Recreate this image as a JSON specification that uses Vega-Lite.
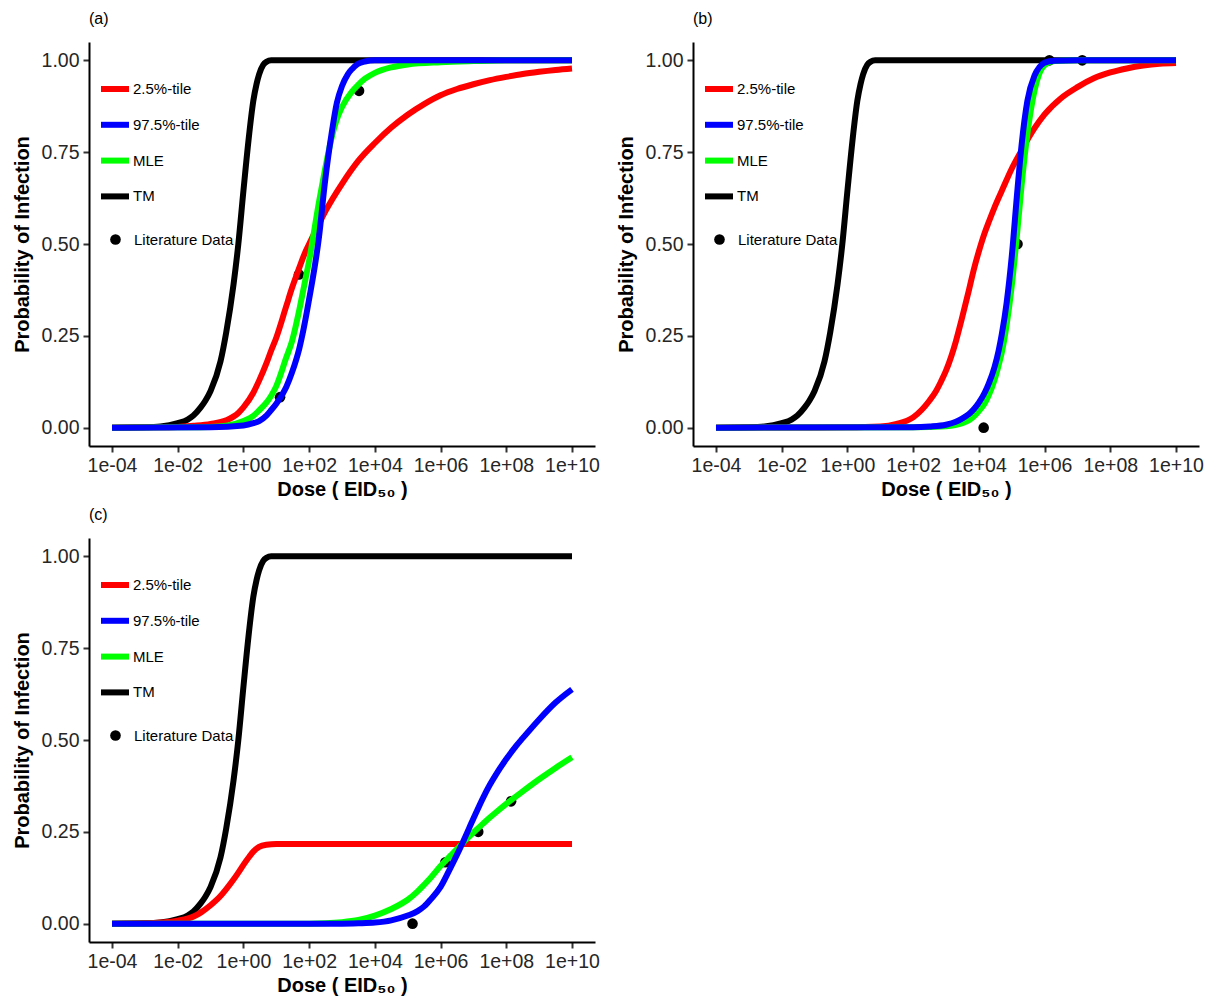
{
  "$schema": "https://vega.github.io/schema/vega-lite/v6.json",
  "padding": {"left": 12, "top": 11, "right": 5, "bottom": 5},
  "background": "white",
  "bounds": "flush",
  "columns": 2,
  "spacing": {"row": 92, "column": 98},
  "resolve": {
    "scale": {"color": "independent", "shape": "independent"},
    "legend": {"color": "independent", "shape": "independent"}
  },
  "datasets": {
    "curves": [
      {"panel": "all", "curve": "TM", "dose": 0.0001, "p": 0},
      {"panel": "all", "curve": "TM", "dose": 0.001, "p": 0.001},
      {"panel": "all", "curve": "TM", "dose": 0.003, "p": 0.003},
      {"panel": "all", "curve": "TM", "dose": 0.01, "p": 0.012},
      {"panel": "all", "curve": "TM", "dose": 0.02, "p": 0.022},
      {"panel": "all", "curve": "TM", "dose": 0.03, "p": 0.033},
      {"panel": "all", "curve": "TM", "dose": 0.05, "p": 0.055},
      {"panel": "all", "curve": "TM", "dose": 0.07, "p": 0.074},
      {"panel": "all", "curve": "TM", "dose": 0.1, "p": 0.1},
      {"panel": "all", "curve": "TM", "dose": 0.2, "p": 0.18},
      {"panel": "all", "curve": "TM", "dose": 0.3, "p": 0.26},
      {"panel": "all", "curve": "TM", "dose": 0.5, "p": 0.39},
      {"panel": "all", "curve": "TM", "dose": 0.7, "p": 0.5},
      {"panel": "all", "curve": "TM", "dose": 1, "p": 0.645},
      {"panel": "all", "curve": "TM", "dose": 1.5, "p": 0.8},
      {"panel": "all", "curve": "TM", "dose": 2, "p": 0.89},
      {"panel": "all", "curve": "TM", "dose": 2.5, "p": 0.935},
      {"panel": "all", "curve": "TM", "dose": 3, "p": 0.962},
      {"panel": "all", "curve": "TM", "dose": 4, "p": 0.988},
      {"panel": "all", "curve": "TM", "dose": 5, "p": 0.996},
      {"panel": "all", "curve": "TM", "dose": 7, "p": 1},
      {"panel": "all", "curve": "TM", "dose": 10, "p": 1},
      {"panel": "all", "curve": "TM", "dose": 10000000000, "p": 1},

      {"panel": "a", "curve": "2.5%-tile", "dose": 0.0001, "p": 0},
      {"panel": "a", "curve": "2.5%-tile", "dose": 0.001, "p": 0.001},
      {"panel": "a", "curve": "2.5%-tile", "dose": 0.01, "p": 0.002},
      {"panel": "a", "curve": "2.5%-tile", "dose": 0.03, "p": 0.005},
      {"panel": "a", "curve": "2.5%-tile", "dose": 0.1, "p": 0.01},
      {"panel": "a", "curve": "2.5%-tile", "dose": 0.3, "p": 0.02},
      {"panel": "a", "curve": "2.5%-tile", "dose": 0.7, "p": 0.04},
      {"panel": "a", "curve": "2.5%-tile", "dose": 1, "p": 0.055},
      {"panel": "a", "curve": "2.5%-tile", "dose": 2, "p": 0.095},
      {"panel": "a", "curve": "2.5%-tile", "dose": 3, "p": 0.128},
      {"panel": "a", "curve": "2.5%-tile", "dose": 5, "p": 0.175},
      {"panel": "a", "curve": "2.5%-tile", "dose": 7, "p": 0.21},
      {"panel": "a", "curve": "2.5%-tile", "dose": 10, "p": 0.245},
      {"panel": "a", "curve": "2.5%-tile", "dose": 20, "p": 0.33},
      {"panel": "a", "curve": "2.5%-tile", "dose": 30, "p": 0.38},
      {"panel": "a", "curve": "2.5%-tile", "dose": 50, "p": 0.435},
      {"panel": "a", "curve": "2.5%-tile", "dose": 70, "p": 0.47},
      {"panel": "a", "curve": "2.5%-tile", "dose": 100, "p": 0.5},
      {"panel": "a", "curve": "2.5%-tile", "dose": 200, "p": 0.555},
      {"panel": "a", "curve": "2.5%-tile", "dose": 316, "p": 0.59},
      {"panel": "a", "curve": "2.5%-tile", "dose": 1000, "p": 0.664},
      {"panel": "a", "curve": "2.5%-tile", "dose": 3162, "p": 0.727},
      {"panel": "a", "curve": "2.5%-tile", "dose": 10000, "p": 0.775},
      {"panel": "a", "curve": "2.5%-tile", "dose": 31623, "p": 0.817},
      {"panel": "a", "curve": "2.5%-tile", "dose": 100000, "p": 0.852},
      {"panel": "a", "curve": "2.5%-tile", "dose": 316228, "p": 0.881},
      {"panel": "a", "curve": "2.5%-tile", "dose": 1000000, "p": 0.905},
      {"panel": "a", "curve": "2.5%-tile", "dose": 3162278, "p": 0.922},
      {"panel": "a", "curve": "2.5%-tile", "dose": 10000000, "p": 0.935},
      {"panel": "a", "curve": "2.5%-tile", "dose": 31622777, "p": 0.946},
      {"panel": "a", "curve": "2.5%-tile", "dose": 100000000, "p": 0.955},
      {"panel": "a", "curve": "2.5%-tile", "dose": 316227766, "p": 0.963},
      {"panel": "a", "curve": "2.5%-tile", "dose": 1000000000, "p": 0.969},
      {"panel": "a", "curve": "2.5%-tile", "dose": 3162277660, "p": 0.974},
      {"panel": "a", "curve": "2.5%-tile", "dose": 10000000000, "p": 0.978},

      {"panel": "a", "curve": "MLE", "dose": 0.0001, "p": 0},
      {"panel": "a", "curve": "MLE", "dose": 0.01, "p": 0.001},
      {"panel": "a", "curve": "MLE", "dose": 0.1, "p": 0.002},
      {"panel": "a", "curve": "MLE", "dose": 0.3, "p": 0.005},
      {"panel": "a", "curve": "MLE", "dose": 1, "p": 0.018},
      {"panel": "a", "curve": "MLE", "dose": 2, "p": 0.032},
      {"panel": "a", "curve": "MLE", "dose": 3, "p": 0.047},
      {"panel": "a", "curve": "MLE", "dose": 5, "p": 0.068},
      {"panel": "a", "curve": "MLE", "dose": 7, "p": 0.087},
      {"panel": "a", "curve": "MLE", "dose": 10, "p": 0.113},
      {"panel": "a", "curve": "MLE", "dose": 20, "p": 0.19},
      {"panel": "a", "curve": "MLE", "dose": 30, "p": 0.235},
      {"panel": "a", "curve": "MLE", "dose": 50, "p": 0.32},
      {"panel": "a", "curve": "MLE", "dose": 70, "p": 0.385},
      {"panel": "a", "curve": "MLE", "dose": 100, "p": 0.455},
      {"panel": "a", "curve": "MLE", "dose": 200, "p": 0.615},
      {"panel": "a", "curve": "MLE", "dose": 300, "p": 0.7},
      {"panel": "a", "curve": "MLE", "dose": 500, "p": 0.795},
      {"panel": "a", "curve": "MLE", "dose": 700, "p": 0.84},
      {"panel": "a", "curve": "MLE", "dose": 1000, "p": 0.873},
      {"panel": "a", "curve": "MLE", "dose": 2000, "p": 0.915},
      {"panel": "a", "curve": "MLE", "dose": 3000, "p": 0.932},
      {"panel": "a", "curve": "MLE", "dose": 5000, "p": 0.95},
      {"panel": "a", "curve": "MLE", "dose": 10000, "p": 0.966},
      {"panel": "a", "curve": "MLE", "dose": 31623, "p": 0.981},
      {"panel": "a", "curve": "MLE", "dose": 100000, "p": 0.989},
      {"panel": "a", "curve": "MLE", "dose": 1000000, "p": 0.995},
      {"panel": "a", "curve": "MLE", "dose": 10000000, "p": 0.998},
      {"panel": "a", "curve": "MLE", "dose": 100000000, "p": 1},
      {"panel": "a", "curve": "MLE", "dose": 10000000000, "p": 1},

      {"panel": "a", "curve": "97.5%-tile", "dose": 0.0001, "p": 0},
      {"panel": "a", "curve": "97.5%-tile", "dose": 0.1, "p": 0.001},
      {"panel": "a", "curve": "97.5%-tile", "dose": 1, "p": 0.006},
      {"panel": "a", "curve": "97.5%-tile", "dose": 2, "p": 0.012},
      {"panel": "a", "curve": "97.5%-tile", "dose": 3, "p": 0.018},
      {"panel": "a", "curve": "97.5%-tile", "dose": 5, "p": 0.033},
      {"panel": "a", "curve": "97.5%-tile", "dose": 7, "p": 0.048},
      {"panel": "a", "curve": "97.5%-tile", "dose": 10, "p": 0.065},
      {"panel": "a", "curve": "97.5%-tile", "dose": 20, "p": 0.11},
      {"panel": "a", "curve": "97.5%-tile", "dose": 30, "p": 0.15},
      {"panel": "a", "curve": "97.5%-tile", "dose": 50, "p": 0.215},
      {"panel": "a", "curve": "97.5%-tile", "dose": 70, "p": 0.275},
      {"panel": "a", "curve": "97.5%-tile", "dose": 100, "p": 0.35},
      {"panel": "a", "curve": "97.5%-tile", "dose": 200, "p": 0.52},
      {"panel": "a", "curve": "97.5%-tile", "dose": 300, "p": 0.665},
      {"panel": "a", "curve": "97.5%-tile", "dose": 500, "p": 0.81},
      {"panel": "a", "curve": "97.5%-tile", "dose": 700, "p": 0.885},
      {"panel": "a", "curve": "97.5%-tile", "dose": 1000, "p": 0.93},
      {"panel": "a", "curve": "97.5%-tile", "dose": 1500, "p": 0.962},
      {"panel": "a", "curve": "97.5%-tile", "dose": 2000, "p": 0.976},
      {"panel": "a", "curve": "97.5%-tile", "dose": 3000, "p": 0.99},
      {"panel": "a", "curve": "97.5%-tile", "dose": 5000, "p": 0.997},
      {"panel": "a", "curve": "97.5%-tile", "dose": 10000, "p": 1},
      {"panel": "a", "curve": "97.5%-tile", "dose": 10000000000, "p": 1},

      {"panel": "b", "curve": "2.5%-tile", "dose": 0.0001, "p": 0},
      {"panel": "b", "curve": "2.5%-tile", "dose": 1, "p": 0.001},
      {"panel": "b", "curve": "2.5%-tile", "dose": 10, "p": 0.003},
      {"panel": "b", "curve": "2.5%-tile", "dose": 31.6, "p": 0.01},
      {"panel": "b", "curve": "2.5%-tile", "dose": 100, "p": 0.028},
      {"panel": "b", "curve": "2.5%-tile", "dose": 316, "p": 0.074},
      {"panel": "b", "curve": "2.5%-tile", "dose": 500, "p": 0.1},
      {"panel": "b", "curve": "2.5%-tile", "dose": 700, "p": 0.125},
      {"panel": "b", "curve": "2.5%-tile", "dose": 1000, "p": 0.155},
      {"panel": "b", "curve": "2.5%-tile", "dose": 2000, "p": 0.235},
      {"panel": "b", "curve": "2.5%-tile", "dose": 3000, "p": 0.295},
      {"panel": "b", "curve": "2.5%-tile", "dose": 5000, "p": 0.375},
      {"panel": "b", "curve": "2.5%-tile", "dose": 7000, "p": 0.43},
      {"panel": "b", "curve": "2.5%-tile", "dose": 10000, "p": 0.48},
      {"panel": "b", "curve": "2.5%-tile", "dose": 15000, "p": 0.53},
      {"panel": "b", "curve": "2.5%-tile", "dose": 20000, "p": 0.56},
      {"panel": "b", "curve": "2.5%-tile", "dose": 30000, "p": 0.6},
      {"panel": "b", "curve": "2.5%-tile", "dose": 50000, "p": 0.645},
      {"panel": "b", "curve": "2.5%-tile", "dose": 100000, "p": 0.705},
      {"panel": "b", "curve": "2.5%-tile", "dose": 200000, "p": 0.755},
      {"panel": "b", "curve": "2.5%-tile", "dose": 316228, "p": 0.787},
      {"panel": "b", "curve": "2.5%-tile", "dose": 500000, "p": 0.816},
      {"panel": "b", "curve": "2.5%-tile", "dose": 1000000, "p": 0.853},
      {"panel": "b", "curve": "2.5%-tile", "dose": 3162278, "p": 0.897},
      {"panel": "b", "curve": "2.5%-tile", "dose": 10000000, "p": 0.927},
      {"panel": "b", "curve": "2.5%-tile", "dose": 31622777, "p": 0.951},
      {"panel": "b", "curve": "2.5%-tile", "dose": 100000000, "p": 0.967},
      {"panel": "b", "curve": "2.5%-tile", "dose": 316227766, "p": 0.978},
      {"panel": "b", "curve": "2.5%-tile", "dose": 1000000000, "p": 0.986},
      {"panel": "b", "curve": "2.5%-tile", "dose": 3162277660, "p": 0.991},
      {"panel": "b", "curve": "2.5%-tile", "dose": 10000000000, "p": 0.993},

      {"panel": "b", "curve": "MLE", "dose": 0.0001, "p": 0},
      {"panel": "b", "curve": "MLE", "dose": 100, "p": 0.001},
      {"panel": "b", "curve": "MLE", "dose": 1000, "p": 0.004},
      {"panel": "b", "curve": "MLE", "dose": 3162, "p": 0.012},
      {"panel": "b", "curve": "MLE", "dose": 5000, "p": 0.02},
      {"panel": "b", "curve": "MLE", "dose": 7000, "p": 0.03},
      {"panel": "b", "curve": "MLE", "dose": 10000, "p": 0.045},
      {"panel": "b", "curve": "MLE", "dose": 15000, "p": 0.066},
      {"panel": "b", "curve": "MLE", "dose": 20000, "p": 0.088},
      {"panel": "b", "curve": "MLE", "dose": 30000, "p": 0.13},
      {"panel": "b", "curve": "MLE", "dose": 40000, "p": 0.17},
      {"panel": "b", "curve": "MLE", "dose": 50000, "p": 0.205},
      {"panel": "b", "curve": "MLE", "dose": 70000, "p": 0.28},
      {"panel": "b", "curve": "MLE", "dose": 100000, "p": 0.385},
      {"panel": "b", "curve": "MLE", "dose": 150000, "p": 0.54},
      {"panel": "b", "curve": "MLE", "dose": 200000, "p": 0.66},
      {"panel": "b", "curve": "MLE", "dose": 300000, "p": 0.8},
      {"panel": "b", "curve": "MLE", "dose": 500000, "p": 0.92},
      {"panel": "b", "curve": "MLE", "dose": 700000, "p": 0.965},
      {"panel": "b", "curve": "MLE", "dose": 1000000, "p": 0.987},
      {"panel": "b", "curve": "MLE", "dose": 2000000, "p": 0.998},
      {"panel": "b", "curve": "MLE", "dose": 10000000, "p": 1},
      {"panel": "b", "curve": "MLE", "dose": 10000000000, "p": 1},

      {"panel": "b", "curve": "97.5%-tile", "dose": 0.0001, "p": 0},
      {"panel": "b", "curve": "97.5%-tile", "dose": 100, "p": 0.001},
      {"panel": "b", "curve": "97.5%-tile", "dose": 316, "p": 0.003},
      {"panel": "b", "curve": "97.5%-tile", "dose": 1000, "p": 0.008},
      {"panel": "b", "curve": "97.5%-tile", "dose": 2000, "p": 0.016},
      {"panel": "b", "curve": "97.5%-tile", "dose": 3000, "p": 0.024},
      {"panel": "b", "curve": "97.5%-tile", "dose": 5000, "p": 0.037},
      {"panel": "b", "curve": "97.5%-tile", "dose": 7000, "p": 0.05},
      {"panel": "b", "curve": "97.5%-tile", "dose": 10000, "p": 0.068},
      {"panel": "b", "curve": "97.5%-tile", "dose": 15000, "p": 0.095},
      {"panel": "b", "curve": "97.5%-tile", "dose": 20000, "p": 0.12},
      {"panel": "b", "curve": "97.5%-tile", "dose": 30000, "p": 0.165},
      {"panel": "b", "curve": "97.5%-tile", "dose": 40000, "p": 0.21},
      {"panel": "b", "curve": "97.5%-tile", "dose": 50000, "p": 0.255},
      {"panel": "b", "curve": "97.5%-tile", "dose": 70000, "p": 0.34},
      {"panel": "b", "curve": "97.5%-tile", "dose": 100000, "p": 0.465},
      {"panel": "b", "curve": "97.5%-tile", "dose": 150000, "p": 0.65},
      {"panel": "b", "curve": "97.5%-tile", "dose": 200000, "p": 0.77},
      {"panel": "b", "curve": "97.5%-tile", "dose": 300000, "p": 0.89},
      {"panel": "b", "curve": "97.5%-tile", "dose": 500000, "p": 0.96},
      {"panel": "b", "curve": "97.5%-tile", "dose": 700000, "p": 0.982},
      {"panel": "b", "curve": "97.5%-tile", "dose": 1000000, "p": 0.994},
      {"panel": "b", "curve": "97.5%-tile", "dose": 2000000, "p": 0.999},
      {"panel": "b", "curve": "97.5%-tile", "dose": 10000000, "p": 1},
      {"panel": "b", "curve": "97.5%-tile", "dose": 10000000000, "p": 1},

      {"panel": "c", "curve": "2.5%-tile", "dose": 0.0001, "p": 0},
      {"panel": "c", "curve": "2.5%-tile", "dose": 0.001, "p": 0.001},
      {"panel": "c", "curve": "2.5%-tile", "dose": 0.00316, "p": 0.003},
      {"panel": "c", "curve": "2.5%-tile", "dose": 0.01, "p": 0.008},
      {"panel": "c", "curve": "2.5%-tile", "dose": 0.0316, "p": 0.02},
      {"panel": "c", "curve": "2.5%-tile", "dose": 0.05, "p": 0.03},
      {"panel": "c", "curve": "2.5%-tile", "dose": 0.1, "p": 0.05},
      {"panel": "c", "curve": "2.5%-tile", "dose": 0.2, "p": 0.075},
      {"panel": "c", "curve": "2.5%-tile", "dose": 0.3, "p": 0.094},
      {"panel": "c", "curve": "2.5%-tile", "dose": 0.5, "p": 0.12},
      {"panel": "c", "curve": "2.5%-tile", "dose": 0.7, "p": 0.139},
      {"panel": "c", "curve": "2.5%-tile", "dose": 1, "p": 0.16},
      {"panel": "c", "curve": "2.5%-tile", "dose": 1.5, "p": 0.182},
      {"panel": "c", "curve": "2.5%-tile", "dose": 2, "p": 0.196},
      {"panel": "c", "curve": "2.5%-tile", "dose": 3, "p": 0.209},
      {"panel": "c", "curve": "2.5%-tile", "dose": 5, "p": 0.215},
      {"panel": "c", "curve": "2.5%-tile", "dose": 10, "p": 0.217},
      {"panel": "c", "curve": "2.5%-tile", "dose": 10000000000, "p": 0.217},

      {"panel": "c", "curve": "MLE", "dose": 0.0001, "p": 0},
      {"panel": "c", "curve": "MLE", "dose": 100, "p": 0},
      {"panel": "c", "curve": "MLE", "dose": 316, "p": 0.001},
      {"panel": "c", "curve": "MLE", "dose": 1000, "p": 0.004},
      {"panel": "c", "curve": "MLE", "dose": 3162, "p": 0.01},
      {"panel": "c", "curve": "MLE", "dose": 10000, "p": 0.022},
      {"panel": "c", "curve": "MLE", "dose": 31623, "p": 0.04},
      {"panel": "c", "curve": "MLE", "dose": 100000, "p": 0.065},
      {"panel": "c", "curve": "MLE", "dose": 200000, "p": 0.088},
      {"panel": "c", "curve": "MLE", "dose": 316228, "p": 0.106},
      {"panel": "c", "curve": "MLE", "dose": 500000, "p": 0.125},
      {"panel": "c", "curve": "MLE", "dose": 1000000, "p": 0.157},
      {"panel": "c", "curve": "MLE", "dose": 2000000, "p": 0.185},
      {"panel": "c", "curve": "MLE", "dose": 3162278, "p": 0.203},
      {"panel": "c", "curve": "MLE", "dose": 5000000, "p": 0.222},
      {"panel": "c", "curve": "MLE", "dose": 10000000, "p": 0.248},
      {"panel": "c", "curve": "MLE", "dose": 20000000, "p": 0.273},
      {"panel": "c", "curve": "MLE", "dose": 31622777, "p": 0.289},
      {"panel": "c", "curve": "MLE", "dose": 50000000, "p": 0.304},
      {"panel": "c", "curve": "MLE", "dose": 100000000, "p": 0.326},
      {"panel": "c", "curve": "MLE", "dose": 316227766, "p": 0.36},
      {"panel": "c", "curve": "MLE", "dose": 1000000000, "p": 0.393},
      {"panel": "c", "curve": "MLE", "dose": 3162277660, "p": 0.424},
      {"panel": "c", "curve": "MLE", "dose": 10000000000, "p": 0.453},

      {"panel": "c", "curve": "97.5%-tile", "dose": 0.0001, "p": 0},
      {"panel": "c", "curve": "97.5%-tile", "dose": 1000, "p": 0},
      {"panel": "c", "curve": "97.5%-tile", "dose": 3162, "p": 0.001},
      {"panel": "c", "curve": "97.5%-tile", "dose": 10000, "p": 0.003},
      {"panel": "c", "curve": "97.5%-tile", "dose": 31623, "p": 0.009},
      {"panel": "c", "curve": "97.5%-tile", "dose": 100000, "p": 0.022},
      {"panel": "c", "curve": "97.5%-tile", "dose": 200000, "p": 0.034},
      {"panel": "c", "curve": "97.5%-tile", "dose": 316228, "p": 0.047},
      {"panel": "c", "curve": "97.5%-tile", "dose": 500000, "p": 0.066},
      {"panel": "c", "curve": "97.5%-tile", "dose": 1000000, "p": 0.1},
      {"panel": "c", "curve": "97.5%-tile", "dose": 2000000, "p": 0.152},
      {"panel": "c", "curve": "97.5%-tile", "dose": 3162278, "p": 0.188},
      {"panel": "c", "curve": "97.5%-tile", "dose": 5000000, "p": 0.226},
      {"panel": "c", "curve": "97.5%-tile", "dose": 10000000, "p": 0.286},
      {"panel": "c", "curve": "97.5%-tile", "dose": 20000000, "p": 0.344},
      {"panel": "c", "curve": "97.5%-tile", "dose": 31622777, "p": 0.378},
      {"panel": "c", "curve": "97.5%-tile", "dose": 50000000, "p": 0.408},
      {"panel": "c", "curve": "97.5%-tile", "dose": 100000000, "p": 0.448},
      {"panel": "c", "curve": "97.5%-tile", "dose": 200000000, "p": 0.484},
      {"panel": "c", "curve": "97.5%-tile", "dose": 316227766, "p": 0.505},
      {"panel": "c", "curve": "97.5%-tile", "dose": 1000000000, "p": 0.556},
      {"panel": "c", "curve": "97.5%-tile", "dose": 3162277660, "p": 0.602},
      {"panel": "c", "curve": "97.5%-tile", "dose": 10000000000, "p": 0.638}
    ],
    "points": [
      {"panel": "a", "src": "Literature Data", "dose": 13, "p": 0.083},
      {"panel": "a", "src": "Literature Data", "dose": 49, "p": 0.417},
      {"panel": "a", "src": "Literature Data", "dose": 3300, "p": 0.917},
      {"panel": "b", "src": "Literature Data", "dose": 14000, "p": 0},
      {"panel": "b", "src": "Literature Data", "dose": 150000, "p": 0.5},
      {"panel": "b", "src": "Literature Data", "dose": 1400000, "p": 1},
      {"panel": "b", "src": "Literature Data", "dose": 14000000, "p": 1},
      {"panel": "c", "src": "Literature Data", "dose": 140000, "p": 0},
      {"panel": "c", "src": "Literature Data", "dose": 1400000, "p": 0.167},
      {"panel": "c", "src": "Literature Data", "dose": 14000000, "p": 0.25},
      {"panel": "c", "src": "Literature Data", "dose": 140000000, "p": 0.333}
    ]
  },
  "concat": [
    {
      "width": 506, "height": 404,
      "title": "(a)",
      "encoding": {
        "x": {"field": "dose", "type": "quantitative",
          "scale": {"type": "log", "domain": [0.000019953, 50118723363], "nice": false},
          "axis": {"values": [0.0001, 0.01, 1, 100, 10000, 1000000, 100000000, 10000000000],
            "labelExpr": "'1e' + (round(log(datum.value)/LN10) < 0 ? '-' : '+') + (abs(round(log(datum.value)/LN10)) < 10 ? '0' : '') + abs(round(log(datum.value)/LN10))",
            "title": "Dose ( EID₅₀ )"}},
        "y": {"field": "p", "type": "quantitative",
          "scale": {"domain": [-0.05, 1.05], "nice": false, "zero": false},
          "axis": {"values": [0, 0.25, 0.5, 0.75, 1], "format": ".2f", "title": "Probability of Infection"}}
      },
      "layer": [
        {
          "data": {"name": "points"},
          "transform": [{"filter": "datum.panel == 'a'"}],
          "mark": {"type": "point", "filled": true, "size": 113, "color": "black", "opacity": 1},
          "encoding": {
            "shape": {"field": "src", "type": "nominal", "scale": {"range": ["circle"]},
              "legend": {"title": null, "orient": "none", "legendX": 19, "legendY": 190, "padding": 0,
                "symbolSize": 113, "symbolFillColor": "black", "symbolStrokeColor": "black", "symbolStrokeWidth": 0,
                "labelOffset": 11, "labelFontSize": 15, "labelFont": "Liberation Sans", "labelColor": "black"}}
          }
        },
        {
          "data": {"name": "curves"},
          "transform": [{"filter": "datum.panel == 'a' || datum.panel == 'all'"}],
          "mark": {"type": "line", "strokeWidth": 6, "interpolate": "monotone"},
          "encoding": {
            "color": {"field": "curve", "type": "nominal",
              "scale": {"domain": ["2.5%-tile", "97.5%-tile", "MLE", "TM"], "range": ["#FF0000", "#0000FF", "#00FF00", "#000000"]},
              "legend": {"title": null, "orient": "none", "legendX": 9, "legendY": 30, "padding": 0,
                "symbolType": "stroke", "symbolSize": 784, "symbolStrokeWidth": 6,
                "labelOffset": 1, "rowPadding": 6.8, "labelFontSize": 15, "labelFont": "Liberation Sans", "labelColor": "black"}}
          }
        }
      ]
    },
    {
      "width": 506, "height": 404,
      "title": "(b)",
      "encoding": {
        "x": {"field": "dose", "type": "quantitative",
          "scale": {"type": "log", "domain": [0.000019953, 50118723363], "nice": false},
          "axis": {"values": [0.0001, 0.01, 1, 100, 10000, 1000000, 100000000, 10000000000],
            "labelExpr": "'1e' + (round(log(datum.value)/LN10) < 0 ? '-' : '+') + (abs(round(log(datum.value)/LN10)) < 10 ? '0' : '') + abs(round(log(datum.value)/LN10))",
            "title": "Dose ( EID₅₀ )"}},
        "y": {"field": "p", "type": "quantitative",
          "scale": {"domain": [-0.05, 1.05], "nice": false, "zero": false},
          "axis": {"values": [0, 0.25, 0.5, 0.75, 1], "format": ".2f", "title": "Probability of Infection"}}
      },
      "layer": [
        {
          "data": {"name": "points"},
          "transform": [{"filter": "datum.panel == 'b'"}],
          "mark": {"type": "point", "filled": true, "size": 113, "color": "black", "opacity": 1},
          "encoding": {
            "shape": {"field": "src", "type": "nominal", "scale": {"range": ["circle"]},
              "legend": {"title": null, "orient": "none", "legendX": 19, "legendY": 190, "padding": 0,
                "symbolSize": 113, "symbolFillColor": "black", "symbolStrokeColor": "black", "symbolStrokeWidth": 0,
                "labelOffset": 11, "labelFontSize": 15, "labelFont": "Liberation Sans", "labelColor": "black"}}
          }
        },
        {
          "data": {"name": "curves"},
          "transform": [{"filter": "datum.panel == 'b' || datum.panel == 'all'"}],
          "mark": {"type": "line", "strokeWidth": 6, "interpolate": "monotone"},
          "encoding": {
            "color": {"field": "curve", "type": "nominal",
              "scale": {"domain": ["2.5%-tile", "97.5%-tile", "MLE", "TM"], "range": ["#FF0000", "#0000FF", "#00FF00", "#000000"]},
              "legend": {"title": null, "orient": "none", "legendX": 9, "legendY": 30, "padding": 0,
                "symbolType": "stroke", "symbolSize": 784, "symbolStrokeWidth": 6,
                "labelOffset": 1, "rowPadding": 6.8, "labelFontSize": 15, "labelFont": "Liberation Sans", "labelColor": "black"}}
          }
        }
      ]
    },
    {
      "width": 506, "height": 404,
      "title": "(c)",
      "encoding": {
        "x": {"field": "dose", "type": "quantitative",
          "scale": {"type": "log", "domain": [0.000019953, 50118723363], "nice": false},
          "axis": {"values": [0.0001, 0.01, 1, 100, 10000, 1000000, 100000000, 10000000000],
            "labelExpr": "'1e' + (round(log(datum.value)/LN10) < 0 ? '-' : '+') + (abs(round(log(datum.value)/LN10)) < 10 ? '0' : '') + abs(round(log(datum.value)/LN10))",
            "title": "Dose ( EID₅₀ )"}},
        "y": {"field": "p", "type": "quantitative",
          "scale": {"domain": [-0.05, 1.05], "nice": false, "zero": false},
          "axis": {"values": [0, 0.25, 0.5, 0.75, 1], "format": ".2f", "title": "Probability of Infection"}}
      },
      "layer": [
        {
          "data": {"name": "points"},
          "transform": [{"filter": "datum.panel == 'c'"}],
          "mark": {"type": "point", "filled": true, "size": 113, "color": "black", "opacity": 1},
          "encoding": {
            "shape": {"field": "src", "type": "nominal", "scale": {"range": ["circle"]},
              "legend": {"title": null, "orient": "none", "legendX": 19, "legendY": 190, "padding": 0,
                "symbolSize": 113, "symbolFillColor": "black", "symbolStrokeColor": "black", "symbolStrokeWidth": 0,
                "labelOffset": 11, "labelFontSize": 15, "labelFont": "Liberation Sans", "labelColor": "black"}}
          }
        },
        {
          "data": {"name": "curves"},
          "transform": [{"filter": "datum.panel == 'c' || datum.panel == 'all'"}],
          "mark": {"type": "line", "strokeWidth": 6, "interpolate": "monotone"},
          "encoding": {
            "color": {"field": "curve", "type": "nominal",
              "scale": {"domain": ["2.5%-tile", "97.5%-tile", "MLE", "TM"], "range": ["#FF0000", "#0000FF", "#00FF00", "#000000"]},
              "legend": {"title": null, "orient": "none", "legendX": 9, "legendY": 30, "padding": 0,
                "symbolType": "stroke", "symbolSize": 784, "symbolStrokeWidth": 6,
                "labelOffset": 1, "rowPadding": 6.8, "labelFontSize": 15, "labelFont": "Liberation Sans", "labelColor": "black"}}
          }
        }
      ]
    }
  ],
  "config": {
    "view": {"stroke": null},
    "font": "Liberation Sans",
    "axis": {"grid": false, "domainColor": "black", "domainWidth": 2, "tickColor": "#333333", "tickWidth": 2, "tickSize": 6,
      "labelFont": "Liberation Sans", "labelFontSize": 19.5, "labelColor": "#262626", "labelPadding": 4,
      "titleFont": "Liberation Sans", "titleFontSize": 20, "titleFontWeight": "bold", "titleColor": "black"},
    "axisX": {"titlePadding": 5},
    "axisY": {"titlePadding": 9},
    "title": {"anchor": "start", "frame": "group", "fontSize": 16, "font": "Liberation Sans", "fontWeight": "normal", "color": "black", "offset": 15}
  }
}
